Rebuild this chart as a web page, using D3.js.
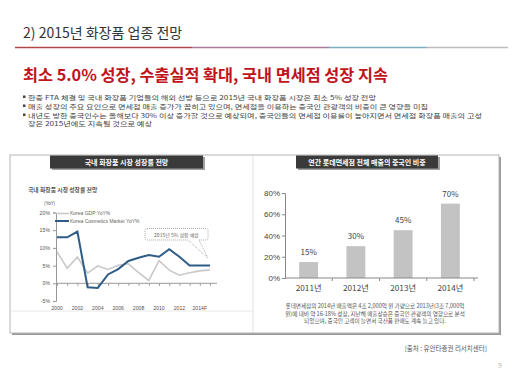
<!DOCTYPE html>
<html><head><meta charset="utf-8">
<script src="https://cdn.jsdelivr.net/npm/d3@7/dist/d3.min.js"></script>
<style>
html,body{margin:0;padding:0;background:#fff;}
svg{display:block;font-family:"Noto Sans CJK KR","Noto Sans",sans-serif;}
</style></head><body>
<svg id="c" width="512" height="384"></svg>
<script>
// ---------- data ----------
const pageTitle = "2) 2015년 화장품 업종 전망";
const headline = "최소 5.0% 성장, 수출실적 확대, 국내 면세점 성장 지속";
const bullets = [
  "한중 FTA 체결 및 국내 화장품 기업들의 해외 선방 등으로 2015년 국내 화장품 시장은 최소 5% 성장 전망",
  "매출 성장의 주요 요인으로 면세점 매출 증가가 꼽히고 있으며, 면세점을 이용하는 중국인 관광객의 비중이 큰 영향을 미침",
  "내년도 방한 중국인수는 올해보다 30% 이상 증가할 것으로 예상되며, 중국인들의 면세점 이용률이 높아지면서 면세점 화장품 매출의 고성",
  "장은 2015년에도 지속될 것으로 예상"
];
const years = [2000,2001,2002,2003,2004,2005,2006,2007,2008,2009,2010,2011,2012,2013,2014,2015];
const gdpYoY = [8.9,4.3,7.4,2.9,4.9,3.9,5.1,5.5,3.0,0.8,6.4,3.7,2.3,3.0,3.5,3.8];
const cosmeticsYoY = [13.0,13.0,14.6,-1.1,-1.3,2.5,4.0,6.3,7.2,8.0,7.5,9.6,7.5,5.0,5.0,5.0];
const lineYTicks = [20,15,10,5,0,-5];
const lineXLabels = ["2000","2002","2004","2006","2008","2010","2012","2014F"];
const lineXLabelYears = [2000,2002,2004,2006,2008,2010,2012,2014];
const seriesNames = ["Korea GDP YoY%","Korea Cosmetics Market YoY%"];
const barCats = ["2011년","2012년","2013년","2014년"];
const barVals = [15,30,45,70];
const barYTicks = [0,20,40,60,80];
const leftTab = "국내 화장품 시장 성장률 전망";
const rightTab = "연간 롯데면세점 전체 매출의 중국인 비중";
const leftSub = "국내 화장품 시장 성장률 전망";
const calloutText = "2015년 5% 성장 예상";
const barNote = [
  "롯데면세점의 2014년 매출액은 4조 2,000억 원 가량으로 2013년(3조 7,000억",
  "원)에 대비 약 16-18% 성장, 지난해 매출상승은 중국인 관광객의 영향으로 분석",
  "되었으며, 중국인 고객이 늘면서 국산품 판매도 계속 늘고 있다."
];
const sourceText = "[출처 : 유안타증권 리서치센터]";
const pageNum = "9";

// ---------- drawing ----------
const svg = d3.select("#c");

// title
svg.append("text").attr("x",23).attr("y",38).attr("font-size",14).attr("fill","#333").text(pageTitle);
const segs = [[15,192,"#b04848"],[192,329,"#b07aa0"],[329,427,"#7ab0c0"],[427,508,"#bdbdbd"]];
svg.selectAll(".seg").data(segs).enter().append("line")
  .attr("x1",d=>d[0]).attr("x2",d=>d[1]).attr("y1",47.5).attr("y2",47.5)
  .attr("stroke",d=>d[2]).attr("stroke-width",1.6);

// headline
svg.append("text").attr("x",23).attr("y",81).attr("font-size",16.3).attr("font-weight","bold")
  .attr("fill","#c0141c").text(headline);

// bullets
const by = [99.5,108.5,117.5,126.3];
const bw = [348,400,454,124];
bullets.forEach((b,i)=>{
  if(i<3) svg.append("rect").attr("x",23).attr("y",by[i]-4).attr("width",2.5).attr("height",2.5).attr("fill","#444");
  svg.append("text").attr("x",28).attr("y",by[i]).attr("font-size",6.1).attr("fill","#444")
    .attr("textLength",bw[i]).attr("lengthAdjust","spacingAndGlyphs").text(b);
});

// panel
svg.append("rect").attr("x",12).attr("y",157).attr("width",489).attr("height",178).attr("fill","#9a9a9a");
svg.append("rect").attr("x",10).attr("y",155).attr("width",489).attr("height",178).attr("fill","#fff").attr("stroke","#b5b5b5").attr("stroke-width",1);
svg.append("line").attr("x1",253).attr("x2",253).attr("y1",156).attr("y2",332).attr("stroke","#e2e2e2");
svg.append("line").attr("x1",11).attr("x2",253).attr("y1",311).attr("y2",311).attr("stroke","#e8e8e8");

// tabs
function tab(x,w,t){
  svg.append("rect").attr("x",x+2).attr("y",157).attr("width",w).attr("height",13).attr("fill","#a0a0a0");
  svg.append("rect").attr("x",x).attr("y",155.5).attr("width",w).attr("height",13).attr("fill","#3a3a3a");
  svg.append("text").attr("x",x+w/2).attr("y",165).attr("text-anchor","middle").attr("font-size",7).attr("font-weight","bold").attr("fill","#fff").text(t);
}
tab(50,153,leftTab);
tab(296,142,rightTab);

// ---- left line chart ----
const lx = d3.scaleLinear().domain([2000,2015]).range([57,210]);
const ly = d3.scaleLinear().domain([-5,20]).range([301,212.5]);
svg.append("text").attr("x",28).attr("y",192).attr("font-size",5.8).attr("font-weight","bold").attr("fill","#555").text(leftSub);
svg.append("text").attr("x",44).attr("y",205).attr("font-size",5).attr("fill","#555").text("(YoY)");
const yAx = svg.append("g").attr("transform","translate(56,0)")
  .call(d3.axisLeft(ly).tickValues(lineYTicks).tickSize(3).tickFormat(d=>d+"%"));
yAx.select(".domain").attr("stroke","#999");
yAx.selectAll("line").attr("stroke","#999");
yAx.selectAll("text").attr("font-size",5.2).attr("fill","#555").attr("font-family","Liberation Sans, Arial, sans-serif");
const xAx = svg.append("g").attr("transform",`translate(0,${ly(0)})`)
  .call(d3.axisBottom(lx).tickValues(years).tickSize(2.5).tickFormat(""));
xAx.select(".domain").attr("stroke","#999").attr("d",`M56,0H217`);
xAx.selectAll("line").attr("stroke","#999");
svg.selectAll(".xl").data(lineXLabels).enter().append("text")
  .attr("x",(d,i)=>lx(lineXLabelYears[i])).attr("y",310).attr("text-anchor","middle")
  .attr("font-size",5.2).attr("fill","#555").attr("font-family","Liberation Sans, Arial, sans-serif").text(d=>d);
const line = d3.line().x((d,i)=>lx(years[i])).y(d=>ly(d));
svg.append("path").datum(gdpYoY).attr("d",line).attr("fill","none").attr("stroke","#c9c9c9").attr("stroke-width",1.6);
svg.append("path").datum(cosmeticsYoY).attr("d",line).attr("fill","none").attr("stroke","#2e5c87").attr("stroke-width",2);
// legend
[["#c9c9c9",1.6],["#2e5c87",2]].forEach((s,i)=>{
  const yy = 213.5 + i*7.5;
  svg.append("line").attr("x1",55).attr("x2",69).attr("y1",yy).attr("y2",yy).attr("stroke",s[0]).attr("stroke-width",s[1]);
  svg.append("text").attr("x",70).attr("y",yy+1.8).attr("font-size",5).attr("fill","#666").attr("font-family","Liberation Sans, Arial, sans-serif").text(seriesNames[i]);
});
// callout
svg.append("path").attr("d","M147,228.5 H206 Q208,228.5 208,230.5 V238 Q208,240 206,240 H199 L208,258 L188,240 H147 Q145,240 145,238 V230.5 Q145,228.5 147,228.5 Z")
  .attr("fill","#fff").attr("stroke","#888").attr("stroke-width",0.7).attr("stroke-dasharray","1,1");
svg.append("text").attr("x",176.5).attr("y",236.5).attr("text-anchor","middle").attr("font-size",5).attr("fill","#666").text(calloutText);

// ---- right bar chart ----
const bx = d3.scaleBand().domain(barCats).range([285,474]).paddingInner(0.6).paddingOuter(0.3);
const byS = d3.scaleLinear().domain([0,80]).range([278,193]);
const ya2 = svg.append("g").attr("transform","translate(285,0)")
  .call(d3.axisLeft(byS).tickValues(barYTicks).tickSize(3).tickFormat(d=>d+"%"));
ya2.select(".domain").attr("stroke","#888");
ya2.selectAll("line").attr("stroke","#888");
ya2.selectAll("text").attr("font-size",8).attr("fill","#444").attr("x",-5);
svg.selectAll(".bar").data(barVals).enter().append("rect")
  .attr("x",(d,i)=>bx(barCats[i])).attr("width",bx.bandwidth())
  .attr("y",d=>byS(d)).attr("height",d=>byS(0)-byS(d)).attr("fill","#c3c3c3");
svg.selectAll(".bv").data(barVals).enter().append("text")
  .attr("x",(d,i)=>bx(barCats[i])+bx.bandwidth()/2).attr("y",d=>byS(d)-7)
  .attr("text-anchor","middle").attr("font-size",8).attr("fill","#444").text(d=>d+"%");
// x axis with boundary ticks
const xa2 = svg.append("g").attr("transform",`translate(0,${byS(0)})`);
xa2.append("line").attr("x1",285).attr("x2",478).attr("stroke","#888");
const step = bx.step();
const bounds = barCats.map((c,i)=>bx(c)+bx.bandwidth()+ (step-bx.bandwidth())/2);
xa2.selectAll(".bt").data(bounds).enter().append("line")
  .attr("x1",d=>d).attr("x2",d=>d).attr("y1",0).attr("y2",3).attr("stroke","#888");
svg.selectAll(".bc").data(barCats).enter().append("text")
  .attr("x",d=>bx(d)+bx.bandwidth()/2).attr("y",291).attr("text-anchor","middle")
  .attr("font-size",8.2).attr("fill","#444").text(d=>d);
barNote.forEach((t,i)=>{
  svg.append("text").attr("x",375).attr("y",308+i*7.5).attr("text-anchor","middle")
    .attr("font-size",5.6).attr("fill","#555").text(t);
});

// source + page
svg.append("text").attr("x",487).attr("y",351).attr("text-anchor","end").attr("font-size",6.5).attr("fill","#555").text(sourceText);
svg.append("text").attr("x",502).attr("y",368).attr("text-anchor","end").attr("font-size",7).attr("fill","#bbb").text(pageNum);
</script>
</body></html>
